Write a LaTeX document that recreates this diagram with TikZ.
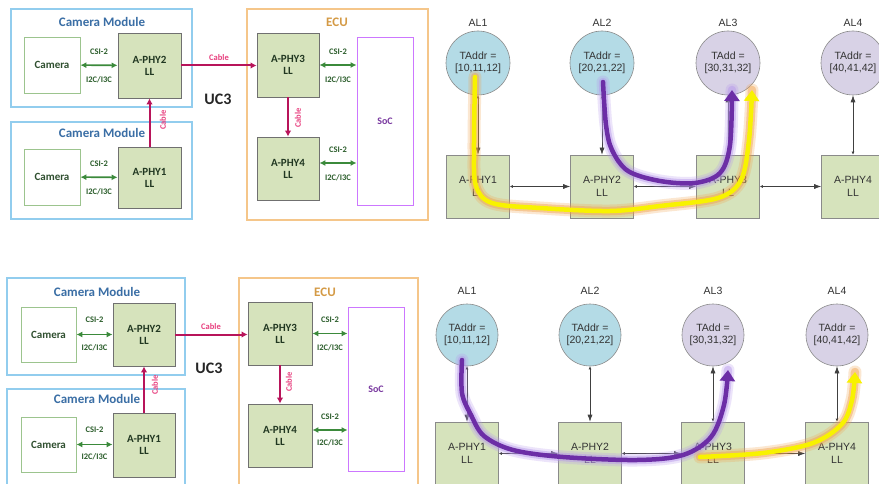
\documentclass[tikz,border=0pt]{standalone}
\usepackage{fontspec}
\setmainfont{Liberation Sans}
\newfontfamily\calib{Carlito}
\usetikzlibrary{arrows.meta}

\definecolor{cmblue}{HTML}{92CDEE}
\definecolor{cmtitle}{HTML}{3A6EA5}
\definecolor{eculine}{HTML}{F5C68A}
\definecolor{ecutitle}{HTML}{D49A45}
\definecolor{camline}{HTML}{9CC48E}
\definecolor{camtext}{HTML}{2F4F2F}
\definecolor{phyfill}{HTML}{D6E3BC}
\definecolor{phyline}{HTML}{707070}
\definecolor{csigreen}{HTML}{3B8A3B}
\definecolor{csitext}{HTML}{2C5E2C}
\definecolor{cablecol}{HTML}{B8145A}
\definecolor{cabletext}{HTML}{E8407F}
\definecolor{socline}{HTML}{CC77FF}
\definecolor{soctext}{HTML}{7A3AA0}
\definecolor{alblue}{HTML}{B4DBE6}
\definecolor{allav}{HTML}{D8D2E6}
\definecolor{algrey}{HTML}{8A8A8A}
\definecolor{rtext}{HTML}{333333}
\definecolor{hlpurple}{HTML}{6C2EA6}
\definecolor{hlpurpleglow}{HTML}{B596EC}
\definecolor{hlyellow}{HTML}{F8F200}
\definecolor{hlyellowglow}{HTML}{F2A24A}

% thick hand-drawn marker stroke with a soft halo and an arrow head
\newcommand\hlstroke[3]{%
  \draw[#1, opacity=0.25, line width=13pt, line cap=round, line join=round] #3;
  \draw[#1, opacity=0.45, line width=8.5pt, line cap=round, line join=round] #3;
  \draw[#2, line width=4.5pt, line cap=round, line join=round,
        -{Triangle[length=11pt,width=15pt]}] #3;
}

\tikzset{
  x=1pt, y=-1pt,
  modbox/.style={draw=cmblue, line width=1.1pt, minimum width=#1},
  ecubox/.style={draw=eculine, line width=1.1pt},
  modtitle/.style={font=\calib\bfseries\fontsize{13}{13}\selectfont, text=cmtitle},
  ecutitlestyle/.style={font=\calib\bfseries\fontsize{13}{13}\selectfont, text=ecutitle},
  cambox/.style={draw=camline, fill=white, line width=0.8pt, minimum width=56pt, minimum height=56pt,
                 font=\calib\bfseries\fontsize{11}{12}\selectfont, text=camtext},
  phybox/.style={draw=phyline, fill=phyfill, line width=0.8pt, align=center,
                 font=\calib\bfseries\fontsize{11}{12}\selectfont, text=camtext!70!black},
  socbox/.style={draw=socline, line width=0.9pt, fill=white,
                 font=\calib\bfseries\fontsize{10}{10}\selectfont, text=soctext},
  csilink/.style={draw=csigreen, line width=1.6pt, {Latex[length=6pt,width=6pt]}-{Latex[length=6pt,width=6pt]}},
  csilabel/.style={font=\calib\bfseries\fontsize{8.5}{8.5}\selectfont, text=csitext, inner sep=0pt},
  cablelink/.style={draw=cablecol, line width=2pt, -{Latex[length=6pt,width=6.5pt]}},
  cablelabel/.style={font=\calib\bfseries\fontsize{8.5}{8.5}\selectfont, text=cabletext, inner sep=0pt},
  ucstyle/.style={font=\calib\bfseries\fontsize{16}{16}\selectfont, text=black!85},
  alnode/.style={circle, draw=algrey, line width=0.6pt, minimum size=#1, inner sep=0pt, align=center,
                 font=\fontsize{10.5}{12.5}\selectfont, text=rtext},
  allabel/.style={font=\fontsize{10.5}{10.5}\selectfont, text=rtext},
  llbox/.style={draw=algrey, fill=phyfill, line width=0.6pt, minimum width=63pt, minimum height=63pt,
                align=center, font=\fontsize{10.5}{12.5}\selectfont, text=rtext},
  bilink/.style={draw=black!75, line width=0.6pt, {Latex[length=3pt,width=3pt]}-{Latex[length=7pt,width=5pt]}},
}

\begin{document}
\begin{tikzpicture}
\clip (0,0) rectangle (879,484);
\fill[white] (0,0) rectangle (879,484);

% ================= upper system diagram =================
\node[modbox=181pt, minimum height=98pt] (cmA) at (101.5,58) {};
\node[modtitle] (cmAt) at (102,22) {Camera Module};
\node[cambox] (camA) at (52,65) {Camera};
\node[phybox, minimum width=63pt, minimum height=65pt] (phyA2) at (149.5,65.5) {A-PHY2\\LL};

\node[modbox=181pt, minimum height=97pt] (cmB) at (101.5,170.5) {};
\node[modtitle] (cmBt) at (102,133) {Camera Module};
\node[cambox] (camB) at (52,177) {Camera};
\node[phybox, minimum width=63pt, minimum height=61pt] (phyA1) at (149.5,177.5) {A-PHY1\\LL};

\node[ecubox, minimum width=181pt, minimum height=211pt] (ecuA) at (337.5,114.5) {};
\node[ecutitlestyle] (ecuAt) at (337,22) {ECU};
\node[phybox, minimum width=62pt, minimum height=64pt] (phyA3) at (288,65) {A-PHY3\\LL};
\node[phybox, minimum width=62pt, minimum height=63pt] (phyA4) at (288,168.5) {A-PHY4\\LL};
\node[socbox, minimum width=56pt, minimum height=168pt] (socA) at (385,121) {SoC};

\node[ucstyle] (ucA) at (218,99) {UC3};

\draw[csilink] (camA) -- (phyA2);
\node[csilabel] (csiA1) at (99,52) {CSI-2};
\node[csilabel] (i2cA1) at (99,80) {I2C/I3C};
\draw[csilink] (camB) -- (phyA1);
\node[csilabel] (csiA2) at (99,164) {CSI-2};
\node[csilabel] (i2cA2) at (99,192) {I2C/I3C};
\draw[csilink] (phyA3.east) -- (phyA3.east -| socA.west);
\node[csilabel] (csiA3) at (338,52) {CSI-2};
\node[csilabel] (i2cA3) at (338,80) {I2C/I3C};
\draw[csilink] ([yshift=5.5pt]phyA4.east) -- ([yshift=5.5pt]phyA4.east -| socA.west);
\node[csilabel] (csiA4) at (338,150) {CSI-2};
\node[csilabel] (i2cA4) at (338,178) {I2C/I3C};

\draw[cablelink] (phyA1.north) -- (phyA2.south);
\node[cablelabel, rotate=90] (cabA1) at (163,120) {Cable};
\draw[cablelink] (phyA2.east) -- (phyA2.east -| phyA3.west);
\node[cablelabel] (cabA2) at (219,58) {Cable};
\draw[cablelink] (phyA3.south) -- (phyA4.north);
\node[cablelabel, rotate=90] (cabA3) at (298,118) {Cable};

% ================= lower system diagram =================
\node[modbox=178pt, minimum height=97pt] (cmC) at (96,326.5) {};
\node[modtitle] (cmCt) at (97,292) {Camera Module};
\node[cambox, minimum width=55pt, minimum height=55pt] (camC) at (48.5,334.5) {Camera};
\node[phybox, minimum width=62pt, minimum height=63pt] (phyB2) at (144,334.5) {A-PHY2\\LL};

\node[modbox=178pt, minimum height=106pt] (cmD) at (96,442) {};
\node[modtitle] (cmDt) at (97,399) {Camera Module};
\node[cambox, minimum width=55pt, minimum height=55pt] (camD) at (48.5,444.5) {Camera};
\node[phybox, minimum width=62pt, minimum height=64pt] (phyB1) at (144,445) {A-PHY1\\LL};

\node[ecubox, minimum width=179pt, minimum height=217pt] (ecuB) at (328.5,386.5) {};
\node[ecutitlestyle] (ecuBt) at (325,292) {ECU};
\node[phybox, minimum width=64pt, minimum height=63pt] (phyB3) at (280,333.5) {A-PHY3\\LL};
\node[phybox, minimum width=64pt, minimum height=63pt] (phyB4) at (280,435.5) {A-PHY4\\LL};
\node[socbox, minimum width=56pt, minimum height=164pt] (socB) at (376,389) {SoC};

\node[ucstyle] (ucB) at (209,368) {UC3};

\draw[csilink] (camC) -- (camC -| phyB2.west);
\node[csilabel] (csiB1) at (94.5,320) {CSI-2};
\node[csilabel] (i2cB1) at (94.5,348) {I2C/I3C};
\draw[csilink] (camD) -- (camD -| phyB1.west);
\node[csilabel] (csiB2) at (94.5,430) {CSI-2};
\node[csilabel] (i2cB2) at (94.5,457) {I2C/I3C};
\draw[csilink] (phyB3.east) -- (phyB3.east -| socB.west);
\node[csilabel] (csiB3) at (330,320) {CSI-2};
\node[csilabel] (i2cB3) at (330,348) {I2C/I3C};
\draw[csilink] ([yshift=5.5pt]phyB4.east) -- ([yshift=5.5pt]phyB4.east -| socB.west);
\node[csilabel] (csiB4) at (330,417) {CSI-2};
\node[csilabel] (i2cB4) at (330,443) {I2C/I3C};

\draw[cablelink] (phyB1.north) -- (phyB2.south);
\node[cablelabel, rotate=90] (cabB1) at (155,385) {Cable};
\draw[cablelink] (phyB2.east) -- (phyB2.east -| phyB3.west);
\node[cablelabel] (cabB2) at (211,327) {Cable};
\draw[cablelink] (phyB3.south) -- (phyB4.north);
\node[cablelabel, rotate=90] (cabB3) at (289,382) {Cable};

% ================= upper address-lane chain =================
\foreach \i/\x/\addr/\fc/\lbl in {1/478/{TAddr =\\{}[10,11,12]}/alblue/AL1,
                                   2/602/{TAddr =\\{}[20,21,22]}/alblue/AL2,
                                   3/728/{TAdd =\\{}[30,31,32]}/allav/AL3,
                                   4/853/{TAddr =\\{}[40,41,42]}/allav/AL4}{
  \node[allabel] (tl\i) at (\x,23) {\lbl};
  \node[alnode=64pt, fill=\fc] (tc\i) at (\x,63) {\addr};
  \node[llbox] (tb\i) at (\x,186.5) {A-PHY\i\\LL};
}
\draw[bilink] (tc1) -- (tb1);
\draw[bilink] (tc2) -- (tb2);
\draw[bilink] (tb3) -- (tc3);
\draw[bilink] (tb4) -- (tc4);
\draw[bilink] (tb1) -- (tb2);
\draw[bilink] (tb2) -- (tb3);
\draw[bilink] (tb3) -- (tb4);

% ================= lower address-lane chain =================
\foreach \i/\x/\addr/\fc/\lbl in {1/467/{TAddr =\\{}[10,11,12]}/alblue/AL1,
                                   2/590/{TAddr =\\{}[20,21,22]}/alblue/AL2,
                                   3/713/{TAdd =\\{}[30,31,32]}/allav/AL3,
                                   4/837/{TAddr =\\{}[40,41,42]}/allav/AL4}{
  \node[allabel] (bl\i) at (\x,291) {\lbl};
  \node[alnode=62pt, fill=\fc] (bc\i) at (\x,335) {\addr};
  \node[llbox] (bb\i) at (\x,453.5) {A-PHY\i\\LL};
}
\draw[bilink] (bc1) -- (bb1);
\draw[bilink] (bc2) -- (bb2);
\draw[bilink] (bb3) -- (bc3);
\draw[bilink] (bb4) -- (bc4);
\draw[bilink] (bb1) -- (bb2);
\draw[bilink] (bb2) -- (bb3);
\draw[bilink] (bb3) -- (bb4);

% ================= marker strokes =================
\hlstroke{hlyellowglow}{hlyellow}{plot[smooth, tension=0.55] coordinates {(475,77) (474,150) (476,186) (492,203) (540,208) (610,211) (660,206) (718,198) (741,180) (749,140) (752,90)}}
\hlstroke{hlpurpleglow}{hlpurple}{plot[smooth, tension=0.55] coordinates {(603,82) (606,125) (612,150) (628,171) (660,181) (695,183) (720,173) (730,145) (732,90)}}

\hlstroke{hlpurpleglow}{hlpurple}{plot[smooth, tension=0.55] coordinates {(462,360) (462,393) (471,415) (484,436) (513,450) (563,457) (637,460) (683,455) (711,437) (724,405) (728,370)}}
\hlstroke{hlyellowglow}{hlyellow}{plot[smooth, tension=0.55] coordinates {(700,457) (763,453) (813,443) (842,424) (852,400) (855,372)}}

\end{tikzpicture}
\end{document}
